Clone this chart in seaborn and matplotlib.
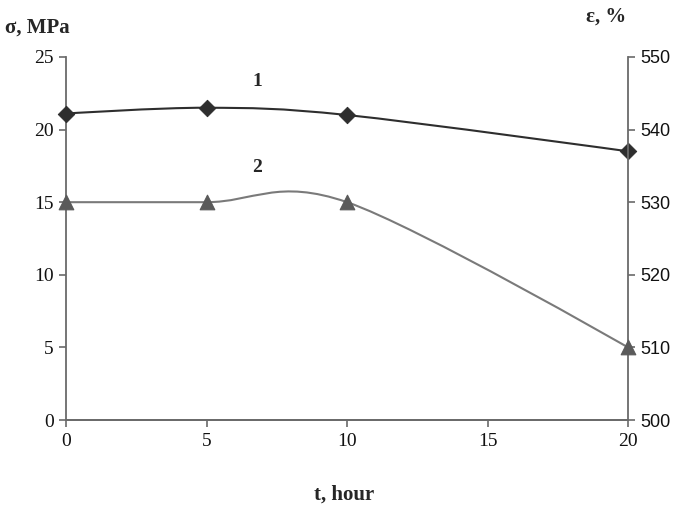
import numpy as np
import matplotlib
matplotlib.use("Agg")
import matplotlib.pyplot as plt
from matplotlib.path import Path
from matplotlib.patches import PathPatch
import seaborn as sns

# data
hours = [0, 5, 10, 20]
stress = [21.1, 21.5, 21.0, 18.5]        # curve 1, sigma, MPa (left axis)
elong = [530, 530, 530, 510]             # curve 2, epsilon, % (right axis)
left_ticks = [0, 5, 10, 15, 20, 25]
right_ticks = [500, 510, 520, 530, 540, 550]
x_ticks = [0, 5, 10, 15, 20]


def smooth_path(xs, ys):
    # excel-style smoothed line: cubic bezier, tangents (P[i+1]-P[i-1])/6,
    # zero tangent at the two ends
    p = np.column_stack([xs, ys]).astype(float)
    n = len(p)
    verts = [p[0]]
    codes = [Path.MOVETO]
    for i in range(n - 1):
        t0 = (p[i + 1] - p[i - 1]) / 6 if i > 0 else np.zeros(2)
        t1 = (p[i + 2] - p[i]) / 6 if i + 2 < n else np.zeros(2)
        verts += [p[i] + t0, p[i + 1] - t1, p[i + 1]]
        codes += [Path.CURVE4] * 3
    return Path(verts, codes)


sns.set_style("ticks")
plt.rcParams['font.family'] = ['Liberation Serif', 'DejaVu Serif']

fig = plt.figure(figsize=(6.85, 5.08), dpi=100)
ax = fig.add_axes([0.0964, 0.173, 0.8206, 0.715])
ax2 = ax.twinx()

c1 = "#2e2e2e"
c2 = "#5a5a5a"
spine = "#6a6a6a"

ax.add_patch(PathPatch(smooth_path(hours, stress), fill=False, edgecolor=c1, lw=1.5))
sns.scatterplot(x=hours, y=stress, ax=ax, marker="D", s=70, color=c1,
                edgecolor=c1, zorder=5, clip_on=False)

ax2.add_patch(PathPatch(smooth_path(hours, elong), fill=False, edgecolor="#7a7a7a", lw=1.5))
sns.scatterplot(x=hours, y=elong, ax=ax2, marker="^", s=110, color=c2,
                edgecolor=c2, zorder=5, clip_on=False)

ax.set_xlim(0, 20)
ax.set_ylim(0, 25)
ax2.set_ylim(500, 550)
ax.set_xticks(x_ticks)
ax.set_yticks(left_ticks)
ax2.set_yticks(right_ticks)
ax.set_xticklabels([str(v) for v in x_ticks], fontsize=14)
ax.set_yticklabels([str(v) for v in left_ticks], fontsize=14)
ax2.set_yticklabels([str(v) for v in right_ticks], fontsize=13,
                    family=['Liberation Sans Narrow', 'Liberation Sans'])

for a in (ax, ax2):
    a.spines['top'].set_visible(False)
    for s in a.spines.values():
        s.set_color(spine)
        s.set_linewidth(1.3)
    a.tick_params(colors=spine, length=5, width=1.2, labelcolor="#111111", pad=4)
ax2.spines['left'].set_visible(False)
ax.spines['right'].set_visible(False)

ax.text(6.8, 23.3, "1", fontsize=14, fontweight="bold", ha="center", va="center")
ax.text(6.8, 17.4, "2", fontsize=14, fontweight="bold", ha="center", va="center")

fig.text(0.008, 0.945, "σ, MPa", fontsize=15, fontweight="bold", ha="left", va="center")
fig.text(0.855, 0.968, "ε, %", fontsize=15, fontweight="bold", ha="left", va="center")
fig.text(0.503, 0.027, "t, hour", fontsize=15, fontweight="bold", ha="center", va="center")

fig.savefig("out.png", dpi=100)
